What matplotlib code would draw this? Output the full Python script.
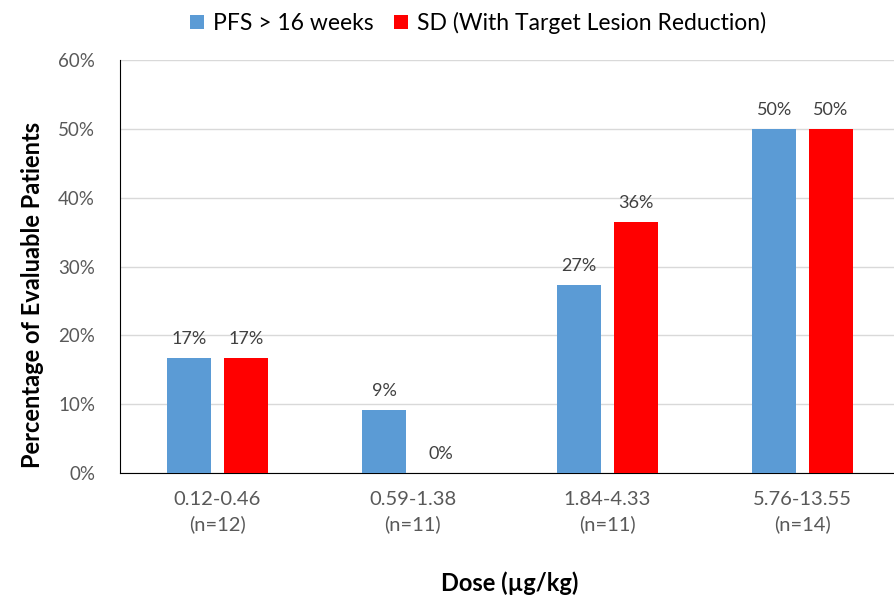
import numpy as np
import matplotlib.pyplot as plt
from matplotlib.ticker import PercentFormatter

plt.rcParams['font.family'] = ['Lato', 'DejaVu Sans']

categories = ["0.12-0.46\n(n=12)", "0.59-1.38\n(n=11)", "1.84-4.33\n(n=11)", "5.76-13.55\n(n=14)"]
pfs = [16.7, 9.1, 27.3, 50.0]
sd = [16.7, 0.0, 36.4, 50.0]
series_names = ["PFS > 16 weeks", "SD (With Target Lesion Reduction)"]

fig = plt.figure(figsize=(8.94, 5.97), dpi=100)
ax = fig.add_axes([120 / 894, 1 - 473 / 597, 780 / 894, 413 / 597])

x = np.arange(len(categories))
w = 0.227
off = (w + 0.062) / 2
b1 = ax.bar(x - off, pfs, w, color="#5B9BD5", label=series_names[0], zorder=3)
b2 = ax.bar(x + off, sd, w, color="#FF0000", label=series_names[1], zorder=3)

for bars in (b1, b2):
    for rect in bars:
        h = rect.get_height()
        ax.annotate(f"{h:.0f}%", (rect.get_x() + rect.get_width() / 2, h),
                    xytext=(0, 8), textcoords="offset points",
                    ha="center", va="bottom", fontsize=13, color="#404040")

ax.set_xlim(-0.5, 3.5)
ax.set_ylim(0, 60)
ax.set_yticks(np.arange(0, 61, 10))
ax.yaxis.set_major_formatter(PercentFormatter(decimals=0))
ax.set_xticks(x)
ax.set_xticklabels(categories, fontsize=14.5, color="#595959", linespacing=1.5)
ax.tick_params(axis="y", labelsize=13.5, labelcolor="#595959", length=0, pad=18)
ax.tick_params(axis="x", length=0, pad=13)
ax.grid(axis="y", color="#D9D9D9", linewidth=1, zorder=0)
ax.spines["top"].set_visible(False)
ax.spines["right"].set_visible(False)
ax.spines["left"].set_color("black")
ax.spines["bottom"].set_color("black")

ax.set_ylabel("Percentage of Evaluable Patients", fontsize=17, fontweight="bold")
ax.yaxis.set_label_coords(-0.098, 0.43)
fig.text(510 / 894, 1 - 583 / 597, "Dose (µg/kg)", fontsize=17, fontweight="bold",
         ha="center", va="center")

fig.legend(loc="center", bbox_to_anchor=(478 / 894, 1 - 23 / 597), ncol=2, frameon=False,
           fontsize=16.5, handlelength=0.6, handleheight=0.6, handletextpad=0.4,
           columnspacing=0.9)

fig.savefig("out.png", dpi=100)
